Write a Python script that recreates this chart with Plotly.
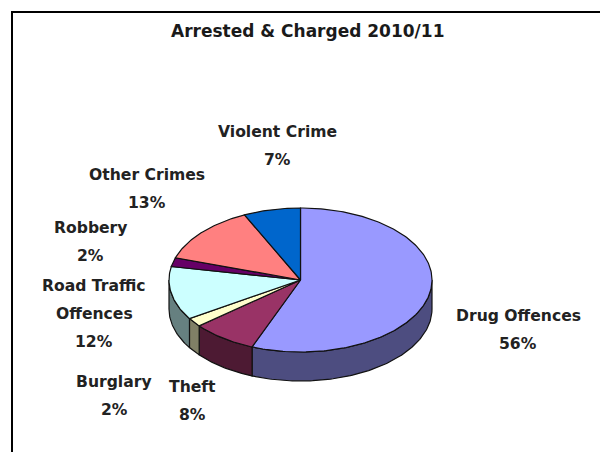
import math
import plotly.graph_objects as go

# Chart data, in drawing order clockwise from twelve o'clock
categories = ["Drug Offences", "Theft", "Burglary", "Road Traffic Offences",
              "Robbery", "Other Crimes", "Violent Crime"]
shares = [56, 8, 2, 12, 2, 13, 7]

# Wrapped label lines for each category
label_lines = [["Drug Offences"], ["Theft"], ["Burglary"], ["Road Traffic", "Offences"],
               ["Robbery"], ["Other Crimes"], ["Violent Crime"]]

# Label block centres (first line centre) in page pixels
label_anchor = [(518, 316), (192, 387), (114, 382), (94, 286), (90, 228), (147, 175), (277, 132)]
LINE_STEP = 28

top_colors = ["#9999FF", "#993366", "#FFFFCC", "#CCFFFF", "#660066", "#FF8080", "#0066CC"]
wall_colors = ["#4D4D80", "#4D1A33", "#808066", "#668080", "#330033", "#804040", "#003366"]

# Pie geometry in page pixels
CX, CY, RX, RY, DEPTH = 300.5, 280, 131.5, 72, 29
FONT = dict(family="DejaVu Sans, Verdana, sans-serif", size=15.6, color="#222222", weight=700)
TITLE_FONT = dict(family="DejaVu Sans, Verdana, sans-serif", size=17, color="#1a1a1a", weight=700)
LINE = dict(color="#111111", width=1.2)


def rim(a0, a1, drop=0.0):
    """Points along the pie rim between two clockwise angles (degrees from the top)."""
    n = max(2, int(abs(a1 - a0)) + 1)
    xs, ys = [], []
    for i in range(n + 1):
        a = math.radians(a0 + (a1 - a0) * i / n)
        xs.append(CX + RX * math.sin(a))
        ys.append(CY - RY * math.cos(a) + drop)
    return xs, ys


fig = go.Figure()

# Slice spans from the shares
spans = []
start = 0.0
total = sum(shares)
for v in shares:
    end = start + 360.0 * v / total
    spans.append((start, end))
    start = end

# Outer wall: only the part of the rim facing the viewer (90 to 270 degrees)
for (a0, a1), color in zip(spans, wall_colors):
    lo, hi = max(a0, 90.0), min(a1, 270.0)
    if lo >= hi:
        continue
    xt, yt = rim(lo, hi)
    xb, yb = rim(hi, lo, DEPTH)
    fig.add_trace(go.Scatter(x=xt + xb + xt[:1], y=yt + yb + yt[:1], mode="lines",
                             fill="toself", fillcolor=color, line=LINE, hoverinfo="skip"))

# Top face of each slice
for (a0, a1), color, name in zip(spans, top_colors, categories):
    xs, ys = rim(a0, a1)
    fig.add_trace(go.Scatter(x=[CX] + xs + [CX], y=[CY] + ys + [CY], mode="lines",
                             fill="toself", fillcolor=color, line=LINE, name=name,
                             hoverinfo="name"))

# Category labels: each line placed separately for the wide line spacing
annotations = []
for lines, share, (lx, ly) in zip(label_lines, shares, label_anchor):
    for i, text in enumerate(lines + [f"{share}%"]):
        annotations.append(dict(x=lx, y=ly + i * LINE_STEP, text=text, showarrow=False,
                                xref="x", yref="y", xanchor="center", yanchor="middle",
                                font=FONT))

annotations.append(dict(x=307, y=31, text="Arrested &amp; Charged 2010/11", showarrow=False,
                        xref="x", yref="y", xanchor="center", yanchor="middle",
                        font=TITLE_FONT))

# Chart frame; right and bottom sides run off the page
frame = dict(type="rect", xref="x", yref="y", x0=12, y0=12, x1=640, y1=500,
             line=dict(color="black", width=2), fillcolor="rgba(0,0,0,0)", layer="above")

fig.update_layout(
    width=600, height=452, margin=dict(l=0, r=0, t=0, b=0),
    paper_bgcolor="white", plot_bgcolor="white", showlegend=False,
    xaxis=dict(range=[0, 600], visible=False, fixedrange=True),
    yaxis=dict(range=[452, 0], visible=False, fixedrange=True),
    annotations=annotations, shapes=[frame],
)

fig.write_html("out.html", config=dict(displayModeBar=False))
